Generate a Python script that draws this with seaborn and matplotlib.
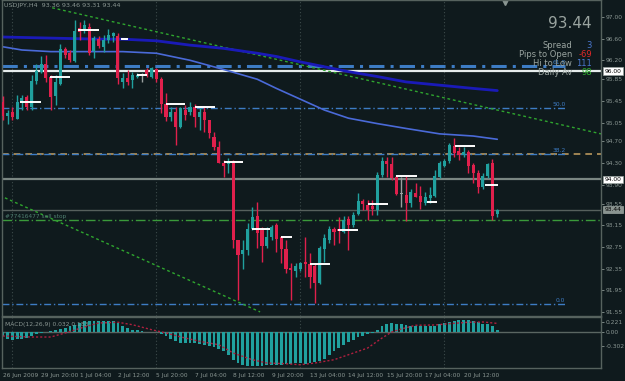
import numpy as np
import pandas as pd
import matplotlib
matplotlib.use("Agg")
import matplotlib.pyplot as plt
import seaborn as sns

# USDJPY H4, 26 Jun 2009 - 20 Jul 2009, one value per bar
opens = [95.43, 95.17, 95.25, 95.12, 95.42, 95.52, 95.34, 95.82, 95.99, 96.14,
         95.90, 95.54, 95.77, 96.40, 96.33, 96.19, 96.79, 96.77, 96.82, 96.38,
         96.59, 96.45, 96.57, 96.64, 96.65, 95.80, 95.87, 95.83, 95.90, 95.92,
         96.02, 95.90, 96.03, 95.85, 95.39, 95.16, 95.25, 94.97, 95.29, 95.25,
         95.34, 95.16, 95.25, 95.10, 94.79, 94.60, 94.31, 94.28, 94.33, 92.88,
         92.62, 92.69, 93.09, 93.32, 93.06, 92.76, 92.93, 93.16, 92.93, 92.71,
         92.37, 92.31, 92.35, 92.47, 92.44, 92.39, 92.08, 92.71, 92.88, 93.08,
         93.08, 93.03, 93.26, 93.16, 93.36, 93.60, 93.52, 93.51, 93.43, 94.08,
         94.33, 94.28, 94.05, 93.72, 93.71, 93.56, 93.75, 93.69, 93.56, 93.65,
         93.69, 94.05, 94.25, 94.33, 94.61, 94.53, 94.45, 94.51, 94.26, 94.12,
         93.86, 94.06, 94.30, 93.36]
highs = [95.54, 95.28, 95.34, 95.56, 95.56, 95.56, 95.93, 96.14, 96.27, 96.30,
         95.93, 95.93, 96.51, 96.45, 96.39, 96.94, 96.91, 96.94, 96.88, 96.64,
         96.64, 96.67, 96.77, 96.73, 96.70, 95.96, 96.02, 95.99, 95.96, 95.96,
         96.05, 96.07, 96.05, 95.90, 95.59, 95.34, 95.34, 95.34, 95.37, 95.43,
         95.40, 95.34, 95.34, 95.10, 94.88, 94.70, 94.36, 94.39, 94.36, 92.88,
         92.88, 93.19, 93.49, 93.59, 93.12, 93.12, 93.16, 93.19, 92.95, 92.88,
         92.45, 92.45, 92.48, 92.94, 92.64, 92.45, 92.76, 92.99, 93.14, 93.12,
         93.31, 93.32, 93.32, 93.40, 93.74, 93.63, 93.62, 93.62, 94.14, 94.42,
         94.42, 94.42, 94.08, 94.05, 94.08, 93.82, 93.94, 93.88, 93.77, 93.86,
         94.17, 94.33, 94.37, 94.67, 94.76, 94.60, 94.60, 94.54, 94.30, 94.17,
         94.11, 94.31, 94.37, 93.46]
lows = [95.10, 95.02, 95.10, 95.11, 95.28, 95.28, 95.28, 95.77, 95.96, 95.80,
        95.28, 95.37, 95.74, 96.24, 96.17, 96.16, 96.57, 96.70, 96.30, 96.24,
        96.42, 96.36, 96.52, 96.54, 95.77, 95.68, 95.74, 95.68, 95.87, 95.80,
        95.90, 95.87, 95.80, 95.22, 95.07, 95.07, 94.63, 94.94, 95.10, 95.19,
        94.97, 94.91, 94.88, 94.76, 94.54, 94.30, 94.05, 94.11, 92.73, 91.77,
        92.35, 92.60, 93.06, 92.73, 92.48, 92.73, 92.88, 92.66, 92.45, 92.26,
        91.77, 92.20, 92.31, 92.20, 92.00, 91.71, 92.06, 92.48, 92.82, 92.79,
        92.82, 93.01, 92.69, 93.12, 93.34, 93.43, 93.25, 93.34, 93.34, 94.05,
        94.05, 93.99, 93.71, 93.49, 93.23, 93.49, 93.67, 93.46, 93.52, 93.56,
        93.67, 94.02, 94.23, 94.30, 94.42, 94.36, 94.42, 94.11, 93.93, 93.74,
        93.83, 94.02, 93.25, 93.31]
closes = [95.17, 95.23, 95.15, 95.42, 95.51, 95.34, 95.82, 96.00, 96.13, 95.87,
          95.53, 95.79, 96.40, 96.30, 96.20, 96.75, 96.73, 96.85, 96.34, 96.61,
          96.46, 96.57, 96.67, 96.70, 95.87, 95.87, 95.79, 95.93, 95.93, 95.92,
          95.93, 96.05, 95.85, 95.40, 95.16, 95.25, 94.97, 95.31, 95.19, 95.34,
          95.16, 95.25, 95.10, 94.85, 94.59, 94.31, 94.25, 94.34, 92.88, 92.60,
          92.69, 93.09, 93.31, 93.01, 92.77, 92.93, 93.12, 92.89, 92.71, 92.35,
          92.32, 92.40, 92.45, 92.43, 92.20, 92.08, 92.73, 92.91, 93.08, 93.03,
          93.05, 93.24, 93.16, 93.34, 93.60, 93.54, 93.43, 93.45, 94.08, 94.33,
          94.28, 94.02, 93.73, 93.72, 93.57, 93.77, 93.68, 93.59, 93.68, 93.71,
          94.06, 94.30, 94.34, 94.63, 94.49, 94.45, 94.51, 94.25, 94.12, 93.86,
          94.06, 94.28, 93.32, 93.44]

# moving averages, read at a few bars
ma_slow_bars = [0, 10, 20, 25, 32, 39, 46, 53, 57, 62, 67, 72, 78, 84, 91, 98, 103]
ma_slow = [96.63, 96.61, 96.59, 96.59, 96.56, 96.48, 96.42, 96.33, 96.27, 96.17,
           96.08, 95.99, 95.90, 95.80, 95.74, 95.68, 95.64]
ma_fast_bars = [0, 4, 10, 25, 32, 39, 46, 53, 57, 62, 67, 72, 78, 84, 91, 98, 103]
ma_fast = [96.45, 96.39, 96.36, 96.36, 96.33, 96.20, 96.03, 95.85, 95.68, 95.48,
           95.28, 95.13, 95.03, 94.94, 94.84, 94.80, 94.74]

# trend lines (bar, price)
trend_hi_bars = [10.3, 124.6]
trend_hi = [97.17, 94.84]
trend_lo_bars = [-0.6, 53.6]
trend_lo = [93.70, 91.55]

# fibonacci retracement
fib_names = ["0.0", "38.2", "50.0", "61.8"]
fib_prices = [91.69, 94.46, 95.31, 96.09]

# daily marker segments
seg_start = [3.6, 9.9, 15.7, 24.6, 28, 34, 40, 46, 52, 58, 64, 69.9, 76, 82, 88.4, 94.2, 100.5]
seg_end = [7.9, 14.0, 20.1, 26.1, 30, 38, 44.2, 50, 55.7, 60.3, 68.2, 74, 80.3, 86.3, 90.5, 98.4, 103.2]
seg_level = [95.42, 95.89, 96.76, 96.59, 95.92, 95.40, 95.34, 94.32, 93.08, 92.93,
             92.44, 93.06, 93.54, 94.06, 93.59, 94.62, 93.90]

# MACD(12,26,9)
macd_hist = [-0.092, -0.149, -0.164, -0.149, -0.149, -0.128, -0.079, -0.043, -0.021, 0.004,
             0.015, 0.036, 0.064, 0.085, 0.121, 0.155, 0.192, 0.228, 0.241, 0.228,
             0.234, 0.234, 0.228, 0.228, 0.192, 0.134, 0.085, 0.049, 0.036, 0.015,
             0.006, 0.006, -0.004, -0.036, -0.092, -0.149, -0.198, -0.234, -0.234, -0.234,
             -0.234, -0.249, -0.271, -0.292, -0.320, -0.362, -0.411, -0.484, -0.590, -0.660,
             -0.697, -0.718, -0.731, -0.731, -0.718, -0.709, -0.709, -0.697, -0.697, -0.682,
             -0.682, -0.660, -0.660, -0.675, -0.660, -0.645, -0.624, -0.575, -0.484, -0.411,
             -0.341, -0.271, -0.219, -0.164, -0.107, -0.079, -0.049, -0.021, 0.036, 0.121,
             0.177, 0.192, 0.177, 0.164, 0.149, 0.134, 0.134, 0.134, 0.121, 0.121,
             0.134, 0.177, 0.192, 0.213, 0.234, 0.256, 0.262, 0.249, 0.234, 0.207,
             0.177, 0.177, 0.134, 0.032]
signal_bars = [0, 6, 10, 13, 17, 20, 24, 27, 31, 34, 38, 41, 45, 48, 52, 55, 59, 62, 65,
               69, 72, 76, 79, 81, 83, 86, 90, 93, 97, 100, 103]
signal = [-0.085, -0.107, -0.107, -0.021, 0.107, 0.192, 0.207, 0.155, 0.049, -0.021,
          -0.128, -0.198, -0.271, -0.447, -0.590, -0.660, -0.675, -0.697, -0.660, -0.590,
          -0.484, -0.341, -0.128, 0.0, 0.064, 0.143, 0.149, 0.177, 0.207, 0.213, 0.183]

date_bars = [0, 8, 16, 24, 32, 40, 48, 56, 64, 72, 80, 88, 96]
date_labels = ["26 Jun 2009", "29 Jun 20:00", "1 Jul 04:00", "2 Jul 12:00", "5 Jul 20:00",
               "7 Jul 04:00", "8 Jul 12:00", "9 Jul 20:00", "13 Jul 04:00", "14 Jul 12:00",
               "15 Jul 20:00", "17 Jul 04:00", "20 Jul 12:00"]
price_ticks = [97.00, 96.60, 96.20, 95.85, 95.45, 95.05, 94.70, 94.30, 93.90, 93.55,
               93.15, 92.75, 92.35, 91.95, 91.55]
grid_bars = [2, 32, 62, 92]

BG = "#0f1a1d"
BULL = "#20a09e"
BEAR = "#e0204c"
DOJI = "#9aa0a0"
TXT = "#8a9692"
FRAME = "#56625e"
FIB = "#3d7cc4"

sns.set_style("dark", {"axes.facecolor": BG, "figure.facecolor": BG})
plt.rcParams["font.family"] = ["DejaVu Sans"]

W, H = 625, 381
fig = plt.figure(figsize=(W / 100, H / 100), dpi=100)


def px_axes(x0, y0, x1, y1):
    return fig.add_axes([x0 / W, 1 - y1 / H, (x1 - x0) / W, (y1 - y0) / H])


ax = px_axes(2, 0, 601, 316)
axm = px_axes(2, 317, 601, 368)
xlim = (-0.15, 124.6)

df = pd.DataFrame({"o": opens, "h": highs, "l": lows, "c": closes})
df["i"] = np.arange(len(df))
cols = np.where(df.c > df.o, BULL, np.where(df.c < df.o, BEAR, DOJI))

# horizontal levels
ax.axhline(96.00, color="#e6ecec", lw=1.6, zorder=2)
ax.axhline(94.00, color="#7a8682", lw=1.6, zorder=2)
ax.axhline(93.44, color="#56605d", lw=1.0, zorder=2)
ax.axhline(93.24, color="#3a9a3a", lw=1.0, ls=(0, (7, 2, 1, 2)), zorder=2)
ax.axhline(94.46, color="#b8965c", lw=1.2, ls=(0, (4, 3)), zorder=2)
for name, p in zip(fib_names, fib_prices):
    lw = 2.2 if name == "61.8" else 1.0
    ax.hlines(p, xlim[0], 117.2, color=FIB, lw=lw, ls=(0, (5, 2, 1, 2)), zorder=2)
    ax.text(117.2, p + 0.02, name, color=FIB, fontsize=4.3, ha="right", va="bottom", zorder=3)
ax.text(0.5, 93.27, "#77416477 sell stop", color="#4f7f70", fontsize=4.2, va="bottom")

for g in grid_bars:
    ax.axvline(g, color="#3c4a4a", lw=0.8, ls=(0, (1, 2)), zorder=1)
    axm.axvline(g, color="#3c4a4a", lw=0.8, ls=(0, (1, 2)), zorder=1)

# trend lines
sns.lineplot(x=trend_hi_bars, y=trend_hi, ax=ax, color="#2fa52f", lw=1, ls=(0, (2, 2)))
sns.lineplot(x=trend_lo_bars, y=trend_lo, ax=ax, color="#2fa52f", lw=1, ls=(0, (2, 2)))

# moving averages
sns.lineplot(x=ma_slow_bars, y=ma_slow, ax=ax, color="#1a1ab8", lw=2.0)
sns.lineplot(x=ma_fast_bars, y=ma_fast, ax=ax, color="#4a6ad8", lw=1.2)

# candles
ax.vlines(df.i, df.l, df.h, colors=cols, lw=1, zorder=4)
ax.bar(df.i, (df.c - df.o).abs().clip(lower=0.025), bottom=np.minimum(df.o, df.c),
       width=0.64, color=cols, linewidth=0, zorder=5)

ax.hlines(seg_level, seg_start, seg_end, color="white", lw=1.4, zorder=6)

ax.set_xlim(*xlim)
ax.set_ylim(91.474, 97.314)
ax.set_xticks([])
ax.yaxis.tick_right()
ax.set_yticks(price_ticks)
ax.set_yticklabels([f"{t:.2f}" for t in price_ticks])

# price boxes on the axis
ytr = ax.get_yaxis_transform()
for p, fc in [(96.00, "white"), (94.00, "white"), (93.44, "#8a9490")]:
    ax.text(1.006, p, f"{p:.2f}", transform=ytr, fontsize=4.3, color="black", va="center",
            ha="left", zorder=10, clip_on=False,
            bbox=dict(boxstyle="square,pad=0.2", fc=fc, ec="#9aa4a0", lw=0.5))
ax.plot([104.6], [0.993], marker="v", ms=4, color=TXT, transform=ax.get_xaxis_transform(),
        clip_on=False)

# MACD panel
axm.axhline(0, color="#5a6662", lw=1, zorder=1)
axm.bar(df.i, macd_hist, width=0.6, color=BULL, linewidth=0, zorder=2)
sns.lineplot(x=signal_bars, y=signal, ax=axm, color="#b0203f", lw=1, ls=(0, (1.5, 1.5)))
axm.set_xlim(*xlim)
axm.set_ylim(-0.766, 0.319)
axm.yaxis.tick_right()
axm.set_yticks([0.221, 0.0, -0.302])
axm.set_yticklabels(["0.221", "0.00", "-0.302"])
axm.set_xticks(date_bars)
axm.set_xticklabels(date_labels, ha="left")
axm.text(0.005, 0.9, "MACD(12,26,9) 0.032 0.183", transform=axm.transAxes,
         fontsize=4.3, color=TXT, va="top")

for a in (ax, axm):
    a.set_xlabel("")
    a.set_ylabel("")
    a.grid(False)
    a.tick_params(colors=TXT, labelsize=4.3, length=2, width=0.6, pad=1.5)
    for s in a.spines.values():
        s.set_color(FRAME)
        s.set_linewidth(1)
axm.tick_params(axis="x", pad=1.5, labelsize=4.2)

fig.text(4 / W, 1 - 6 / H, "USDJPY,H4  93.36 93.46 93.31 93.44", fontsize=4.6, color=TXT, va="center")
fig.text(592 / W, 1 - 23 / H, "93.44", fontsize=11, color="#9aa4a0", ha="right", va="center")
info = [("Spread", "3", "#4a78d0"), ("Pips to Open", "-69", "#e02828"),
        ("Hi to Low", "111", "#4a78d0"), ("Daily Av", "98", "#2fae2f")]
for k, (lab, val, c) in enumerate(info):
    yy = 1 - (45 + 9.2 * k) / H
    fig.text(572 / W, yy, lab, fontsize=6, color="#9aa4a0", ha="right", va="center")
    fig.text(592 / W, yy, val, fontsize=6, color=c, ha="right", va="center")

fig.savefig("out.png", dpi=100, facecolor=BG)
